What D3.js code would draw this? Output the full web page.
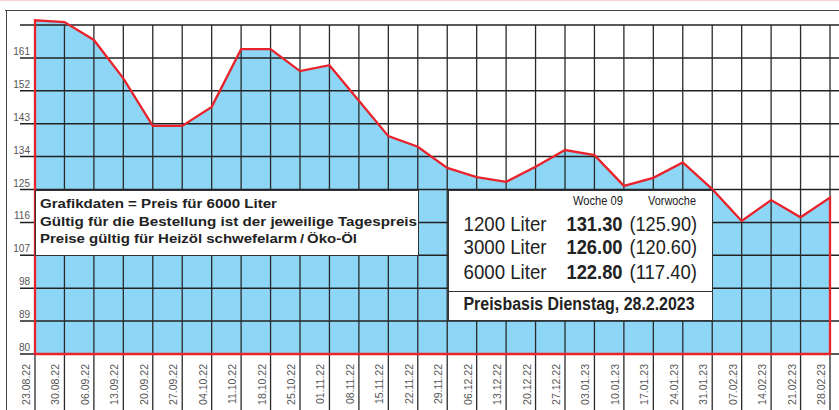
<!DOCTYPE html>
<html><head><meta charset="utf-8">
<script src="https://cdn.jsdelivr.net/npm/d3@7"></script>
<style>html,body{margin:0;padding:0;background:#fff;}svg{display:block;}</style>
</head><body>
<svg id="c" width="839" height="410"></svg>
<script>
const dates = ["23.08.22","30.08.22","06.09.22","13.09.22","20.09.22","27.09.22","04.10.22","11.10.22","18.10.22","25.10.22","01.11.22","08.11.22","15.11.22","22.11.22","29.11.22","06.12.22","13.12.22","20.12.22","27.12.22","03.01.23","10.01.23","17.01.23","24.01.23","31.01.23","07.02.23","14.02.23","21.02.23","28.02.23"];
const prices = [171.3,170.8,165.9,155.4,142.4,142.4,147.6,163.4,163.4,157.4,159.0,149.3,139.6,136.7,130.9,128.4,127.1,131.2,135.8,134.4,126.0,128.2,132.4,125.1,116.4,122.1,117.4,122.8];
const yTicks = [80,89,98,107,116,125,134,143,152,161,170];
const yLabels = ["80","89","98","107","116","125","134","143","152","161",""];
const infoLines = ["Grafikdaten = Preis für 6000 Liter","Gültig für die Bestellung ist der jeweilige Tagespreis","Preise gültig für Heizöl schwefelarm\u2009/\u2009Öko-Öl"];
const headCols = ["Woche 09","Vorwoche"];
const amounts = ["1200 Liter","3000 Liter","6000 Liter"];
const thisWeek = ["131.30","126.00","122.80"];
const lastWeek = ["(125.90)","(120.60)","(117.40)"];
const basis = "Preisbasis Dienstag, 28.2.2023";

const svg = d3.select("#c");
const FONT = "'Liberation Sans', Arial, Helvetica, sans-serif";
const x = d3.scalePoint().domain(dates).range([35, 830]);
const y = d3.scaleLinear().domain([80,170]).range([354,25]);

// frame
svg.append("line").attr("x1",0).attr("x2",839).attr("y1",0.5).attr("y2",0.5).attr("stroke","#f6d4d4").attr("stroke-width",1);
svg.append("line").attr("x1",5).attr("x2",839).attr("y1",10.5).attr("y2",10.5).attr("stroke","#444").attr("stroke-width",1);
svg.append("line").attr("x1",6.5).attr("x2",6.5).attr("y1",10).attr("y2",410).attr("stroke","#444").attr("stroke-width",1);

// area fill
const area = d3.area().x(d=>x(d.d)).y0(y(80)).y1(d=>y(d.v)).curve(d3.curveLinear);
const pts = dates.map((d,i)=>({d, v:prices[i]}));
svg.append("path").datum(pts).attr("d",area).attr("fill","#8dd6f6");

// horizontal grid
svg.append("g").selectAll("line").data(yTicks).join("line")
  .attr("x1",20).attr("x2",839).attr("y1",d=>y(d)).attr("y2",d=>y(d))
  .attr("stroke","#222").attr("stroke-width",1.5);
// vertical grid + ticks below
svg.append("g").selectAll("line").data(dates).join("line")
  .attr("x1",d=>x(d)).attr("x2",d=>x(d)).attr("y1",y(170)).attr("y2",410)
  .attr("stroke","#2a2a2a").attr("stroke-width",1.3);

// red outline
const line = d3.line().x(d=>x(d.d)).y(d=>d.v===null?y(80):y(d.v));
const outline = [{d:dates[0],v:80}].concat(pts).concat([{d:dates[dates.length-1],v:80}]);
svg.append("path").datum(outline).attr("d", line(outline)+"Z")
  .attr("fill","none").attr("stroke","#e8232b").attr("stroke-width",2.3).attr("stroke-linejoin","miter");

// y labels
svg.append("g").selectAll("text").data(yTicks).join("text")
  .attr("x",30).attr("y",d=>y(d)-3).attr("text-anchor","end")
  .attr("font-family",FONT).attr("font-size",10).attr("fill","#555")
  .text((d,i)=>yLabels[i]);

// x labels
svg.append("g").selectAll("text").data(dates).join("text")
  .attr("transform",d=>`translate(${x(d)-5},364) rotate(-90)`)
  .attr("text-anchor","end")
  .attr("font-family",FONT).attr("font-size",10.5).attr("fill","#555")
  .text(d=>d);

// info box 1
svg.append("rect").attr("x",35.5).attr("y",190.5).attr("width",383).attr("height",65)
  .attr("fill","#fff").attr("stroke","#333").attr("stroke-width",1);
const infoW = [237,377,317];
svg.append("g").selectAll("text").data(infoLines).join("text")
  .attr("x",40).attr("y",(d,i)=>208.3+i*17.2)
  .attr("font-family",FONT).attr("font-weight","bold").attr("font-size",12).attr("fill","#222")
  .attr("textLength",(d,i)=>infoW[i]).attr("lengthAdjust","spacingAndGlyphs")
  .text(d=>d);

// price box 2
svg.append("rect").attr("x",448.5).attr("y",190.5).attr("width",264).attr("height",130)
  .attr("fill","#fff").attr("stroke","#333").attr("stroke-width",1);
svg.append("line").attr("x1",448.5).attr("x2",712.5).attr("y1",291.5).attr("y2",291.5).attr("stroke","#333").attr("stroke-width",1);
const headX = [573,648], headW=[50,48];
svg.append("g").selectAll("text").data(headCols).join("text")
  .attr("x",(d,i)=>headX[i]).attr("y",205)
  .attr("font-family",FONT).attr("font-size",12.5).attr("fill","#222")
  .attr("textLength",(d,i)=>headW[i]).attr("lengthAdjust","spacingAndGlyphs").text(d=>d);
const rowY = [230.5,254,278.5];
const rows = svg.append("g");
rows.selectAll("text.a").data(amounts).join("text").attr("class","a")
  .attr("x",463.5).attr("y",(d,i)=>rowY[i])
  .attr("font-family",FONT).attr("font-size",21).attr("fill","#222")
  .attr("textLength",83).attr("lengthAdjust","spacingAndGlyphs").text(d=>d);
rows.selectAll("text.b").data(thisWeek).join("text").attr("class","b")
  .attr("x",566.5).attr("y",(d,i)=>rowY[i])
  .attr("font-family",FONT).attr("font-size",21).attr("font-weight","bold").attr("fill","#222")
  .attr("textLength",56).attr("lengthAdjust","spacingAndGlyphs").text(d=>d);
rows.selectAll("text.c").data(lastWeek).join("text").attr("class","c")
  .attr("x",629.5).attr("y",(d,i)=>rowY[i])
  .attr("font-family",FONT).attr("font-size",21).attr("fill","#222")
  .attr("textLength",67.5).attr("lengthAdjust","spacingAndGlyphs").text(d=>d);
svg.append("text").attr("x",463.5).attr("y",309.5)
  .attr("font-family",FONT).attr("font-size",17.5).attr("font-weight","bold").attr("fill","#222")
  .attr("textLength",231).attr("lengthAdjust","spacingAndGlyphs").text(basis);
</script>
</body></html>
